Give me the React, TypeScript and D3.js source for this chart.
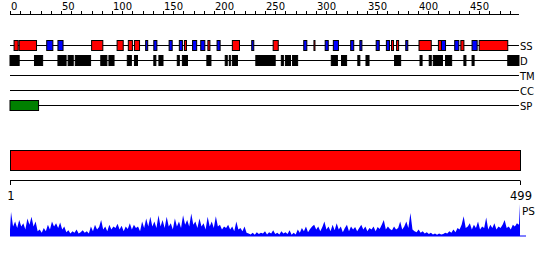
import React from "react";
import * as d3 from "d3";

// ---- data (residue ranges) ----
const SEQ_LENGTH = 499;
const rulerLabels = [0, 50, 100, 150, 200, 250, 300, 350, 400, 450];
const rulerTicks = d3.range(0, 500, 10);
const trackLabels = ["SS", "D", "TM", "CC", "SP"];

const helices: [number, number][] = [
  [4, 8], [9, 26], [80, 91], [105, 111], [116, 120], [122, 127], [171, 173], [194, 196],
  [218, 225], [258, 263], [298, 299], [374, 376], [379, 381], [401, 413], [420, 423],
  [442, 445], [460, 488],
];
const strands: [number, number][] = [
  [36, 42], [47, 52], [133, 135], [141, 144], [156, 159], [166, 169], [179, 183], [187, 191],
  [203, 206], [237, 239], [288, 291], [309, 312], [317, 322], [334, 337], [343, 345],
  [359, 362], [369, 372], [388, 390], [423, 427], [436, 440], [453, 458],
];
const disorder: [number, number][] = [
  [0, 9], [24, 32], [47, 55], [57, 62], [64, 79], [89, 95], [97, 102], [115, 119], [122, 125],
  [141, 143], [146, 150], [164, 166], [169, 174], [193, 197], [211, 213], [215, 216], [218, 223],
  [241, 260], [266, 268], [270, 275], [277, 282], [315, 321], [325, 330], [341, 343], [349, 352],
  [377, 383], [402, 404], [411, 413], [415, 424], [427, 433], [445, 447], [453, 455], [488, 499],
];
const signalPeptide: [number, number][] = [[0, 28]];
const domains: [number, number][] = [[0, 500]];
const axisLabels = [1, 499];

// profile, one value every 2 residues (0..498), then residue 499
const profile = [
  0.2, 0.75, 0.3, 0.45, 0.25, 0.5, 0.3, 0.4, 0.2, 0.55, 0.35, 0.6, 0.3, 0.45, 0.15, 0.2, 0.1, 0.25, 0.15, 0.35, 0.2, 0.45, 0.3, 0.4, 0.25,
  0.42, 0.2, 0.3, 0.12, 0.18, 0.08, 0.15, 0.1, 0.2, 0.08, 0.12, 0.18, 0.1, 0.15, 0.08, 0.3, 0.15, 0.35, 0.2, 0.28, 0.5, 0.2, 0.3, 0.15, 0.35,
  0.2, 0.3, 0.25, 0.38, 0.2, 0.32, 0.15, 0.3, 0.22, 0.4, 0.2, 0.35, 0.25, 0.3, 0.15, 0.45, 0.25, 0.55, 0.3, 0.6, 0.3, 0.45, 0.25, 0.65, 0.3,
  0.5, 0.25, 0.6, 0.3, 0.4, 0.2, 0.55, 0.3, 0.45, 0.25, 0.65, 0.35, 0.5, 0.3, 0.7, 0.35, 0.45, 0.25, 0.55, 0.3, 0.4, 0.2, 0.6, 0.3, 0.45,
  0.25, 0.62, 0.3, 0.35, 0.2, 0.3, 0.25, 0.35, 0.2, 0.3, 0.15, 0.45, 0.2, 0.25, 0.15, 0.3, 0.1, 0.08, 0.05, 0.1, 0.04, 0.12, 0.06, 0.1, 0.08,
  0.15, 0.05, 0.12, 0.08, 0.18, 0.06, 0.1, 0.05, 0.15, 0.08, 0.12, 0.06, 0.18, 0.04, 0.1, 0.05, 0.2, 0.1, 0.25, 0.15, 0.3, 0.12, 0.22, 0.3, 0.35,
  0.2, 0.3, 0.15, 0.28, 0.45, 0.2, 0.3, 0.15, 0.35, 0.18, 0.4, 0.2, 0.3, 0.12, 0.25, 0.35, 0.15, 0.3, 0.2, 0.28, 0.15, 0.25, 0.35, 0.2, 0.3,
  0.15, 0.25, 0.2, 0.3, 0.15, 0.28, 0.22, 0.35, 0.5, 0.2, 0.3, 0.22, 0.18, 0.3, 0.2, 0.25, 0.45, 0.2, 0.3, 0.45, 0.25, 0.72, 0.2, 0.15, 0.12,
  0.2, 0.1, 0.15, 0.08, 0.12, 0.06, 0.1, 0.05, 0.08, 0.04, 0.08, 0.05, 0.06, 0.1, 0.08, 0.15, 0.1, 0.2, 0.12, 0.25, 0.2, 0.35, 0.62, 0.25, 0.3,
  0.4, 0.2, 0.35, 0.25, 0.45, 0.2, 0.3, 0.25, 0.58, 0.2, 0.35, 0.25, 0.4, 0.2, 0.3, 0.25, 0.35, 0.5, 0.25, 0.3, 0.2, 0.35, 0.3, 0.4, 0.35,
  1.0,
];

const FONT = "DejaVu Sans";

export default function App() {
  const x = d3.scaleLinear().domain([0, 500]).range([10, 520]);
  const xAxis = d3.scaleLinear().domain([1, SEQ_LENGTH]).range([10, 520]);
  const yProf = d3.scaleLinear().domain([0, 1]).range([236, 204]);

  const profPoints = profile.map((v, i) => [i < 250 ? i * 2 : SEQ_LENGTH, v] as [number, number]);
  const area = d3
    .area<[number, number]>()
    .x((d) => xAxis(Math.max(1, d[0])))
    .y0(yProf(0))
    .y1((d) => yProf(d[1]))(profPoints);

  const trackY = [45, 60, 75, 90, 105];

  const boxes = (data: [number, number][], y: number, h: number, fill: string, key: string) =>
    data.map(([a, b], i) => (
      <rect
        key={key + i}
        x={x(a)}
        y={y}
        width={Math.max(1, x(b) - x(a))}
        height={h}
        fill={fill}
        stroke="#000"
        strokeWidth={1}
      />
    ));

  return (
    <svg
      width={550}
      height={260}
      style={{ position: "absolute", left: 0, top: 0, background: "#fff" }}
      fontFamily={FONT}
    >
      <rect x={0} y={0} width={550} height={260} fill="#fff" />
      {/* top ruler */}
      <line x1={x(0)} x2={x(SEQ_LENGTH)} y1={14.5} y2={14.5} stroke="#000" />
      {rulerTicks.map((t) => (
        <line key={"t" + t} x1={Math.round(x(t)) + 0.5} x2={Math.round(x(t)) + 0.5} y1={11} y2={14.5} stroke="#000" />
      ))}
      {rulerLabels.map((t) => (
        <text key={"l" + t} x={x(t) + 1} y={10} fontSize={10} fill="#000">
          {t}
        </text>
      ))}

      {/* track lines */}
      {trackY.map((y, i) => (
        <g key={"tr" + i}>
          <line x1={x(0)} x2={x(SEQ_LENGTH)} y1={y + 0.5} y2={y + 0.5} stroke="#000" />
          <text x={x(SEQ_LENGTH) + 1} y={y + 4.5} fontSize={10} fill="#000">
            {trackLabels[i]}
          </text>
        </g>
      ))}

      {boxes(helices, 40.5, 10, "#ff0000", "h")}
      {boxes(strands, 40.5, 10, "#0000ff", "s")}
      {boxes(disorder, 55.5, 10, "#000000", "d")}
      {boxes(signalPeptide, 100.5, 10, "#008000", "sp")}

      {/* domain bar */}
      {domains.map(([a, b], i) => (
        <rect key={"dom" + i} x={x(a) + 0.5} y={150.5} width={x(b) - x(a)} height={20} fill="#ff0000" stroke="#000" />
      ))}

      {/* bottom axis */}
      <line x1={xAxis(1)} x2={xAxis(SEQ_LENGTH)} y1={180.5} y2={180.5} stroke="#000" />
      {axisLabels.map((v) => (
        <g key={"ax" + v}>
          <line x1={Math.round(xAxis(v)) + 0.5} x2={Math.round(xAxis(v)) + 0.5} y1={180.5} y2={185} stroke="#000" />
          <text x={xAxis(v) + 1} y={200} fontSize={11.5} textAnchor="middle" fill="#000">
            {v}
          </text>
        </g>
      ))}

      {/* profile */}
      <path d={area || ""} fill="#0000ff" />
      <line x1={xAxis(1)} x2={xAxis(SEQ_LENGTH) + 6} y1={236} y2={236} stroke="#0000ff" strokeWidth={1} />
      <text x={xAxis(SEQ_LENGTH) + 2} y={215} fontSize={10.5} fill="#000">
        PS
      </text>
    </svg>
  );
}
